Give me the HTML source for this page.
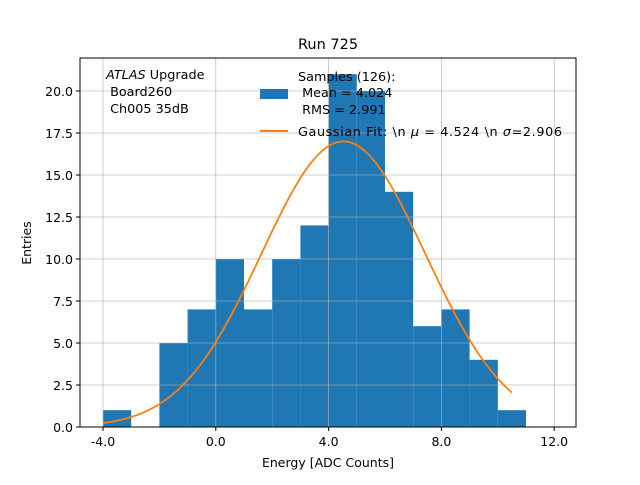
<!DOCTYPE html>
<html><head><meta charset="utf-8"><style>
body{margin:0;background:#fff}
svg text{font-family:"DejaVu Sans","Liberation Sans",sans-serif;fill:#000}
</style></head><body>
<svg width="640" height="480" viewBox="0 0 640 480">
<rect width="640" height="480" fill="#fff"/>
<text x="328" y="49" font-size="14.5" text-anchor="middle">Run 725</text>
<g id="bars"></g>
<g id="grid"></g>
<g id="curve"></g>
<rect x="80" y="58" width="496" height="369" fill="none" stroke="#000" stroke-width="1"/>
<g id="xt"></g><g id="yt"></g>
<text x="328" y="467" font-size="12.5" text-anchor="middle">Energy [ADC Counts]</text>
<text x="31" y="243" font-size="12.5" text-anchor="middle" transform="rotate(-90 31 243)">Entries</text>
<g font-size="12.8">
<text x="106" y="79"><tspan font-style="italic">ATLAS</tspan> Upgrade</text>
<text x="106" y="96">&#160;Board260</text>
<text x="106" y="113">&#160;Ch005 35dB</text>
</g>
<g font-size="12.8">
<rect x="260" y="89" width="28" height="10" fill="#1f77b4"/>
<text x="298" y="81">Samples (126):</text>
<text x="298" y="97">&#160;Mean = 4.024</text>
<text x="298" y="114">&#160;RMS = 2.991</text>
<line x1="260" y1="131" x2="288" y2="131" stroke="#ff7f0e" stroke-width="2"/>
<text x="298" y="136" textLength="264" lengthAdjust="spacing">Gaussian Fit: \n <tspan font-style="italic">μ</tspan> = 4.524 \n <tspan font-style="italic">σ</tspan>=2.906</text>
</g>
</svg>
<script>
const binEdges=[-4,-3,-2,-1,0,1,2,3,4,5,6,7,8,9,10,11];
const counts=[1,0,5,7,10,7,10,12,21,20,14,6,7,4,1];
const xTicks=[-4,0,4,8,12];
const xTickLabels=["-4.0","0.0","4.0","8.0","12.0"];
const yTicks=[0,2.5,5,7.5,10,12.5,15,17.5,20];
const yTickLabels=["0.0","2.5","5.0","7.5","10.0","12.5","15.0","17.5","20.0"];
const fitAmp=[17];
const fitMu=[4.524];
const fitSigma=[2.906];
const fitRange=[-4,10.5];
const NS="http://www.w3.org/2000/svg";
const X=v=>103+(v+4)*28.2;
const Y=v=>427-v*16.8;
function mk(t,a,p){const e=document.createElementNS(NS,t);for(const k in a)e.setAttribute(k,a[k]);p.appendChild(e);return e;}
const bars=document.getElementById('bars');
counts.forEach((c,i)=>{if(c<=0)return;const r=mk('rect',{x:X(binEdges[i]),y:Y(c),width:X(binEdges[i+1])-X(binEdges[i]),height:Y(0)-Y(c),fill:'#1f77b4'},bars);

});
const grid=document.getElementById('grid'),xt=document.getElementById('xt'),yt=document.getElementById('yt');
xTicks.forEach((v,i)=>{mk('line',{x1:X(v),x2:X(v),y1:58,y2:427,stroke:'#b0b0b0','stroke-width':0.8,opacity:0.8},grid);
mk('line',{x1:X(v),x2:X(v),y1:427,y2:431,stroke:'#000'},xt);
const t=mk('text',{x:X(v),y:446,'font-size':12.5,'text-anchor':'middle'},xt);t.textContent=xTickLabels[i];

});
yTicks.forEach((v,i)=>{mk('line',{x1:80,x2:576,y1:Y(v),y2:Y(v),stroke:'#b0b0b0','stroke-width':0.8,opacity:0.8},grid);
mk('line',{x1:76,x2:80,y1:Y(v),y2:Y(v),stroke:'#000'},yt);
const t=mk('text',{x:73,y:Y(v)+5,'font-size':12.5,'text-anchor':'end'},yt);t.textContent=yTickLabels[i];

});
let d='';const n=200;
for(let i=0;i<=n;i++){const x=fitRange[0]+(fitRange[1]-fitRange[0])*i/n;const y=fitAmp[0]*Math.exp(-Math.pow(x-fitMu[0],2)/(2*fitSigma[0]*fitSigma[0]));d+=(i?'L':'M')+X(x).toFixed(2)+','+Y(y).toFixed(2);}
const c=mk('path',{d:d,fill:'none',stroke:'#ff7f0e','stroke-width':1.8},document.getElementById('curve'));


</script>
</body></html>
